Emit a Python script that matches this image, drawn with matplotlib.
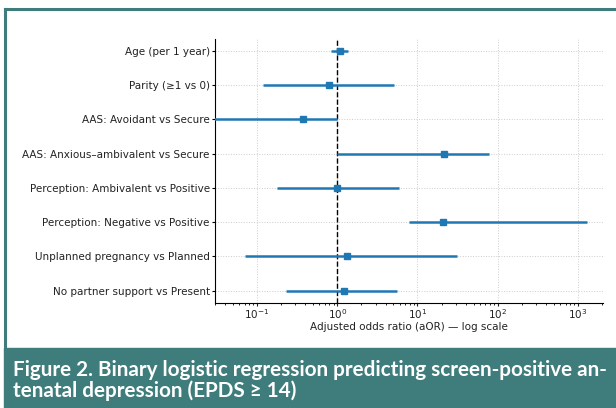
import numpy as np
import matplotlib
matplotlib.use("Agg")
import matplotlib.pyplot as plt
from matplotlib.patches import Rectangle
from matplotlib.lines import Line2D

# --- dados (aOR e IC95%) ---
preditores = [
    "Age (per 1 year)",
    "Parity (\u22651 vs 0)",
    "AAS: Avoidant vs Secure",
    "AAS: Anxious\u2013ambivalent vs Secure",
    "Perception: Ambivalent vs Positive",
    "Perception: Negative vs Positive",
    "Unplanned pregnancy vs Planned",
    "No partner support vs Present",
]
aor = [1.08, 0.79, 0.37, 21.5, 1.0, 20.9, 1.32, 1.20]
ic_inf = [0.84, 0.12, 0.02, 1.0, 0.18, 7.9, 0.071, 0.23]
ic_sup = [1.36, 5.1, 1.0, 77.0, 5.85, 1300.0, 31.0, 5.5]

legenda = ["Figure 2. Binary logistic regression predicting screen-positive an-",
           "tenatal depression (EPDS \u2265 14)"]

TEAL = "#3e7d7b"
AZUL = "#1f77b4"

fig = plt.figure(figsize=(6.16, 4.08), dpi=100)
W, H = 616, 408

# moldura + faixa da legenda (coordenadas em pixels -> fração)
fig.add_artist(Line2D([5 / W, 1], [1 - 9 / H, 1 - 9 / H], color=TEAL, lw=2.2,
                      transform=fig.transFigure))
fig.add_artist(Line2D([5 / W, 5 / W], [1 - 9 / H, 1 - 349 / H], color=TEAL, lw=2.2,
                      transform=fig.transFigure))
fig.add_artist(Rectangle((4 / W, 0), 1 - 4 / W, 60 / H, color=TEAL,
                         transform=fig.transFigure, zorder=0))
for linha, base in zip(legenda, [376, 397]):
    fig.text(13 / W, 1 - base / H, linha, color="white", fontsize=14.9,
             fontweight="bold", family=["Lato", "DejaVu Sans"], va="baseline")

ax = fig.add_axes([215 / W, 1 - 302.7 / H, (603 - 215) / W, (302.7 - 39) / H])
y = np.arange(len(preditores))
aor_a = np.array(aor)
err = np.vstack([aor_a - np.array(ic_inf), np.array(ic_sup) - aor_a])
ax.errorbar(aor_a, y, xerr=err, fmt="s", color=AZUL, ms=4.5, lw=1.8,
            capsize=0, zorder=3)
ax.axvline(1, color="black", ls="--", lw=1, zorder=2)

ax.set_xscale("log")
ax.set_xlim(0.03, 2050)
ax.set_ylim(len(preditores) - 0.65, -0.35)
ax.set_yticks(y)
ax.set_yticklabels(preditores, fontsize=7.5, color="#222222")
ax.tick_params(axis="y", length=2.2, pad=1.5)
ax.tick_params(axis="x", which="major", length=2.2, pad=1, labelsize=7.5,
               colors="#222222")
ax.tick_params(axis="x", which="minor", length=1.5)
ax.set_xlabel("Adjusted odds ratio (aOR) \u2014 log scale", fontsize=7.5,
              color="#222222", labelpad=1)
ax.grid(True, which="major", ls=":", lw=0.7, color="#cccccc")
ax.spines["top"].set_visible(False)
ax.spines["right"].set_visible(False)

fig.savefig("out.png", dpi=100)
